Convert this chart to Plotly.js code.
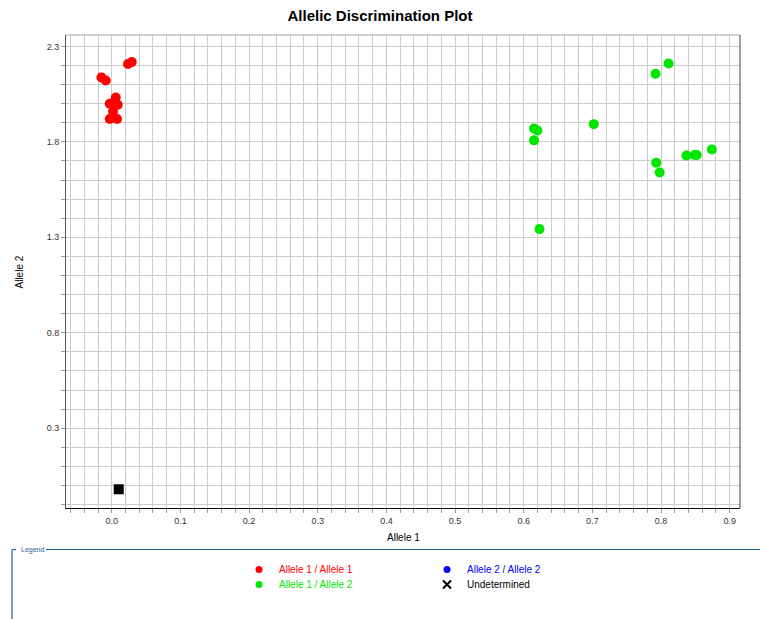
<!DOCTYPE html>
<html><head><meta charset="utf-8">
<script src="https://cdn.plot.ly/plotly-3.0.1.min.js"></script>
<style>html,body{margin:0;padding:0;background:#fff}</style>
</head><body><div id="chart" style="width:760px;height:619px"></div>
<script>
// ---- data ----
const allele11X = [0.0237, 0.0291, -0.0150, -0.0087, 0.0058, -0.0029, 0.0087, 0.0019, -0.0029, 0.0077, 0.0029];
const allele11Y = [2.208, 2.218, 2.138, 2.122, 2.033, 2.000, 1.995, 1.959, 1.920, 1.920, 2.005];
const allele12X = [0.811, 0.792, 0.702, 0.874, 0.837, 0.849, 0.852, 0.793, 0.798, 0.615, 0.620, 0.615, 0.623];
const allele12Y = [2.211, 2.157, 1.893, 1.760, 1.729, 1.731, 1.731, 1.691, 1.640, 1.870, 1.860, 1.808, 1.343];
const allele22X = [];
const allele22Y = [];
const undetX = [0.0102];
const undetY = [-0.020];
const seriesNames = ['Allele 1 / Allele 1', 'Allele 1 / Allele 2', 'Allele 2 / Allele 2', 'Undetermined'];
const seriesColors = ['#ff0000', '#00e600', '#0000ff', '#000000'];
const xTitle = 'Allele 1';
const yTitle = 'Allele 2';
const xTickFormat = '.1f';
const yTickFormat = '.1f';

const FONT = 'Liberation Sans, Arial, Helvetica, sans-serif';

const plotTraces = [
  {x: allele11X, y: allele11Y, type: 'scatter', mode: 'markers', showlegend: false,
   marker: {size: 10, color: seriesColors[0]}},
  {x: allele12X, y: allele12Y, type: 'scatter', mode: 'markers', showlegend: false,
   marker: {size: 10, color: seriesColors[1]}},
  {x: allele22X, y: allele22Y, type: 'scatter', mode: 'markers', showlegend: false,
   marker: {size: 10, color: seriesColors[2]}},
  {x: undetX, y: undetY, type: 'scatter', mode: 'markers', showlegend: false,
   marker: {size: 10, symbol: 'square', color: seriesColors[3]}}
];

// legend entries (no points drawn)
const legendIds = ['legend', 'legend3', 'legend2', 'legend4'];
const legendTraces = seriesNames.map((n, i) => ({
  x: [null], y: [null], type: 'scatter', mode: 'markers', name: n, showlegend: true,
  legend: legendIds[i],
  marker: i === 3 ? {symbol: 'x-thin', size: 8, color: '#000', line: {width: 2, color: '#000'}}
                  : {symbol: 'circle', size: 7, color: seriesColors[i]}
}));

function leg(xpx, ytop, color) {
  return {x: xpx / 760, y: 1 - ytop / 619, xref: 'container', yref: 'container',
    xanchor: 'left', yanchor: 'top', bgcolor: 'rgba(0,0,0,0)', borderwidth: 0,
    itemwidth: 30, font: {family: FONT, size: 10, color: color}};
}

const L = 66, R = 20, T = 35, B = 111;
const PW = 760 - L - R, PH = 619 - T - B;
const px = v => (v - L) / PW;
const py = v => (619 - B - v) / PH;
const frameColor = '#1f5c99';

const gridC = '#cccccc';
const layout = {
  width: 760, height: 619,
  margin: {l: L, r: R, t: T, b: B, autoexpand: false},
  paper_bgcolor: '#fff', plot_bgcolor: '#fff',
  font: {family: FONT, color: '#000'},
  hovermode: false,
  title: {text: 'Allelic Discrimination Plot', x: 0.5, xref: 'container', xanchor: 'center',
          y: 1 - 16 / 619, yref: 'container', yanchor: 'middle',
          font: {family: FONT, size: 15, weight: 700, color: '#000'}},
  xaxis: {range: [-0.0666, 0.915], tick0: 0, dtick: 0.1, tickformat: xTickFormat,
    showgrid: true, gridcolor: gridC, gridwidth: 1, zeroline: false,
    ticks: 'outside', ticklen: 4, tickcolor: '#999', tickfont: {family: FONT, size: 9, color: '#333'},
    showline: true, linecolor: '#111', linewidth: 1, automargin: false,
    minor: {tick0: 0, dtick: 0.02, showgrid: true, gridcolor: gridC, gridwidth: 1,
            ticks: 'outside', ticklen: 4, tickcolor: '#999'}},
  yaxis: {range: [-0.118, 2.36], tick0: 0.3, dtick: 0.5, tickformat: yTickFormat,
    showgrid: true, gridcolor: gridC, gridwidth: 1, zeroline: false,
    ticks: 'outside', ticklen: 4, tickcolor: '#999', tickfont: {family: FONT, size: 9, color: '#333'},
    showline: true, linecolor: '#555', linewidth: 1, automargin: false,
    minor: {tick0: 0.3, dtick: 0.1, showgrid: true, gridcolor: gridC, gridwidth: 1,
            ticks: 'outside', ticklen: 4, tickcolor: '#999'}},
  legend: leg(239, 555, seriesColors[0]),
  legend2: leg(427, 555, seriesColors[2]),
  legend3: leg(239, 570, seriesColors[1]),
  legend4: leg(427, 570, '#000000'),
  shapes: [
    {type: 'line', xref: 'paper', yref: 'paper', x0: 0, x1: 1, y0: 1, y1: 1, line: {color: '#a0a0a0', width: 1}},
    {type: 'line', xref: 'paper', yref: 'paper', x0: 1, x1: 1, y0: 0, y1: 1, line: {color: '#404040', width: 1}},
    {type: 'line', xref: 'paper', yref: 'paper', x0: px(46), x1: px(762), y0: py(549.5), y1: py(549.5), line: {color: frameColor, width: 1.2}},
    {type: 'line', xref: 'paper', yref: 'paper', x0: px(12), x1: px(12), y0: py(549.5), y1: py(625), line: {color: frameColor, width: 1.2}},
    {type: 'line', xref: 'paper', yref: 'paper', x0: px(12), x1: px(16), y0: py(549.5), y1: py(549.5), line: {color: frameColor, width: 1.2}}
  ],
  annotations: [
    {text: 'Legend', xref: 'paper', yref: 'paper', x: px(19), y: py(549.5), xanchor: 'left', yanchor: 'middle',
     showarrow: false, font: {family: FONT, size: 7, color: '#2e5e9a'}},
    {text: xTitle, xref: 'paper', yref: 'paper', x: 0.5, y: py(537), xanchor: 'center', yanchor: 'middle',
     showarrow: false, font: {family: FONT, size: 10, color: '#000'}},
    {text: yTitle, xref: 'paper', yref: 'paper', x: px(19), y: 0.5, xanchor: 'center', yanchor: 'middle',
     textangle: -90, showarrow: false, font: {family: FONT, size: 10, color: '#000'}}
  ]
};

Plotly.newPlot('chart', plotTraces.concat(legendTraces), layout, {staticPlot: true, displayModeBar: false});
</script>
</body></html>
